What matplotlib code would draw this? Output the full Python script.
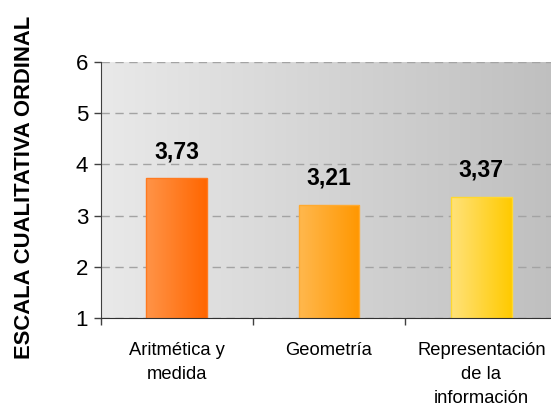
import numpy as np
import matplotlib
matplotlib.use("Agg")
import matplotlib.pyplot as plt
from matplotlib.colors import LinearSegmentedColormap

categories = ["Aritmética y\nmedida", "Geometría", "Representación\nde la\ninformación"]
values = [3.73, 3.21, 3.37]
value_labels = ["3,73", "3,21", "3,37"]
yticks = [1, 2, 3, 4, 5, 6]
ylabel = "ESCALA CUALITATIVA ORDINAL"

bar_grad = [("#ff9448", "#ff6600"), ("#ffb84e", "#ff9700"), ("#ffe27a", "#ffca00")]
bar_edge = ["#ff7a20", "#ffaa30", "#ffd830"]

plt.rcParams['font.family'] = ['Liberation Sans', 'DejaVu Sans']

fig = plt.figure(figsize=(5.51, 4.07), dpi=100)
ax = fig.add_axes([100.5 / 551, (407 - 318) / 407, 457 / 551, 256 / 407])

x = np.arange(len(categories))
ax.set_xlim(-0.5, len(categories) - 0.5)
ax.set_ylim(1, 6)

# background gradient
bg = LinearSegmentedColormap.from_list("bg", ["#e9e9e9", "#bfbfbf"])
grad = np.linspace(0, 1, 256).reshape(1, -1)
ax.imshow(grad, cmap=bg, aspect="auto", extent=[0, 1, 0, 1], transform=ax.transAxes, zorder=0)

ax.yaxis.grid(True, color="#a3a3a3", linestyle=(0, (6, 4)), linewidth=1.0, zorder=1)
ax.set_axisbelow(True)

bars = ax.bar(x, values, width=0.4, zorder=2, edgecolor="none")
for b, (c1, c2), ec in zip(bars, bar_grad, bar_edge):
    cm = LinearSegmentedColormap.from_list("b", [c1, c2])
    bx = b.get_x()
    im = ax.imshow(grad, cmap=cm, aspect="auto",
                   extent=[bx, bx + b.get_width(), 1, b.get_height()], zorder=2.5)
    im.set_clip_path(b)
    b.set_facecolor("none")
    b.set_edgecolor(ec)
    b.set_linewidth(1.0)
    b.set_zorder(3)

for xi, v, lab in zip(x, values, value_labels):
    ax.annotate(lab, (xi, v), xytext=(0, 14.5), textcoords="offset points",
                ha="center", va="baseline", fontsize=16.5, fontweight="bold", color="black")

ax.set_yticks(yticks)
ax.set_yticklabels([str(t) for t in yticks], fontsize=16)
ax.tick_params(axis="y", direction="out", length=5, width=1, color="#404040", pad=4)

ax.set_xticks(x)
ax.set_xticklabels(categories, fontsize=13.2, linespacing=1.55)
ax.set_xticks(np.arange(-0.5, len(categories), 1.0), minor=True)
ax.tick_params(axis="x", which="major", length=0, pad=17)
ax.tick_params(axis="x", which="minor", direction="out", length=5, width=1, color="#404040")

for s in ["top", "right"]:
    ax.spines[s].set_visible(False)
ax.spines["left"].set_color("#404040")
ax.spines["bottom"].set_color("#303030")
ax.spines["left"].set_zorder(4)
ax.spines["bottom"].set_zorder(4)

fig.text(25 / 551, 1 - 187 / 407, ylabel, rotation=90, ha="center", va="center",
         fontsize=15.8, fontweight="bold")

fig.savefig("out.png", dpi=100)
